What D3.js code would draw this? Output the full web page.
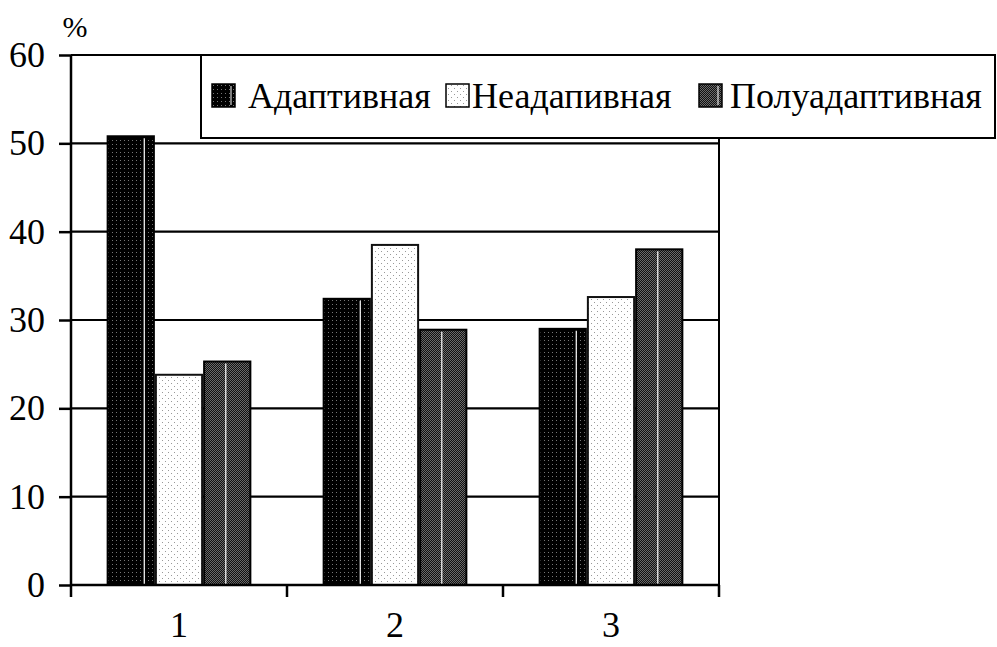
<!DOCTYPE html>
<html><head><meta charset="utf-8">
<script src="https://cdn.jsdelivr.net/npm/d3@7"></script>
</head><body style="margin:0">
<svg id="c" width="997" height="647" style="font-family:'Liberation Serif',Tinos,'Times New Roman',monospace"></svg>
<script>
const categories = ["1", "2", "3"];
const seriesNames = ["Адаптивная", "Неадапивная", "Полуадаптивная"];
const adaptive = [50.8, 32.4, 29.0];
const nonAdaptive = [23.8, 38.5, 32.6];
const semiAdaptive = [25.3, 28.9, 38.0];
const yTicks = [0, 10, 20, 30, 40, 50, 60];
const seriesValues = [adaptive, nonAdaptive, semiAdaptive];

const FONT = "'Liberation Serif', Tinos, 'Times New Roman', monospace";
const svg = d3.select("#c");
const W = 997, H = 647;
const m = {left: 71, right: 278, top: 55, bottom: 62};
const iw = W - m.left - m.right, ih = H - m.top - m.bottom;

const defs = svg.append("defs");
const p1 = defs.append("pattern").attr("id","pA").attr("patternUnits","userSpaceOnUse").attr("width",4).attr("height",4);
p1.append("rect").attr("width",4).attr("height",4).attr("fill","#000");
p1.append("rect").attr("x",1).attr("y",1).attr("width",1).attr("height",1).attr("fill","#777");
const p2 = defs.append("pattern").attr("id","pB").attr("patternUnits","userSpaceOnUse").attr("width",6).attr("height",6);
p2.append("rect").attr("width",6).attr("height",6).attr("fill","#fff");
p2.append("rect").attr("x",1).attr("y",1).attr("width",1).attr("height",1).attr("fill","#999");
p2.append("rect").attr("x",4).attr("y",4).attr("width",1).attr("height",1).attr("fill","#999");
const p3 = defs.append("pattern").attr("id","pC").attr("patternUnits","userSpaceOnUse").attr("width",2).attr("height",2);
p3.append("rect").attr("width",2).attr("height",2).attr("fill","#111");
p3.append("rect").attr("x",0).attr("y",0).attr("width",1).attr("height",1).attr("fill","#6a6a6a");
p3.append("rect").attr("x",1).attr("y",1).attr("width",1).attr("height",1).attr("fill","#6a6a6a");
const fills = ["url(#pA)", "url(#pB)", "url(#pC)"];
const strokes = ["#000", "#111", "#000"];
const highlight = [0.78, null, 0.47];

const g = svg.append("g").attr("transform", `translate(${m.left},${m.top})`);
const x0 = d3.scaleBand().domain(categories).range([0, iw]).paddingInner(0).paddingOuter(0);
const bw = x0.bandwidth();
const groupW = bw * 0.67;
const x1 = d3.scaleBand().domain(d3.range(seriesNames.length)).range([(bw - groupW) / 2, (bw + groupW) / 2]);
const y = d3.scaleLinear().domain([0, 60]).range([ih, 0]);

g.selectAll(".grid").data(yTicks.filter(d => d > 0)).join("line")
  .attr("x1", 0).attr("x2", iw).attr("y1", d => y(d)).attr("y2", d => y(d))
  .attr("stroke", "#000").attr("stroke-width", 2.2);
g.append("line").attr("x1", iw).attr("x2", iw).attr("y1", 0).attr("y2", ih).attr("stroke", "#000").attr("stroke-width", 2);

const data = [];
categories.forEach((c, i) => seriesValues.forEach((s, j) => data.push({c, j, v: s[i]})));
g.selectAll(".bar").data(data).join("rect")
  .attr("x", d => x0(d.c) + x1(d.j) + 1)
  .attr("y", d => y(d.v))
  .attr("width", x1.bandwidth() - 2)
  .attr("height", d => ih - y(d.v))
  .attr("fill", d => fills[d.j]).attr("stroke", d => strokes[d.j]).attr("stroke-width", 2);
g.selectAll(".hl").data(data.filter(d => highlight[d.j] !== null)).join("line")
  .attr("x1", d => x0(d.c) + x1(d.j) + x1.bandwidth() * highlight[d.j])
  .attr("x2", d => x0(d.c) + x1(d.j) + x1.bandwidth() * highlight[d.j])
  .attr("y1", d => y(d.v) + 2).attr("y2", ih - 1)
  .attr("stroke", "#fff").attr("stroke-width", 1.2);

const yAxis = g.append("g").call(d3.axisLeft(y).tickValues(yTicks).tickSize(12).tickPadding(14));
yAxis.attr("font-family", null).attr("font-size", 36);
yAxis.select(".domain").remove();
yAxis.selectAll(".tick line").attr("stroke", "#000").attr("stroke-width", 2.5);
yAxis.selectAll("text").attr("fill", "#000").style("font-family", FONT, "important");
g.append("line").attr("x1", 0).attr("x2", 0).attr("y1", 0).attr("y2", ih).attr("stroke", "#000").attr("stroke-width", 2.5);

const xAxis = g.append("g").attr("transform", `translate(0,${ih})`);
xAxis.append("line").attr("x1", 0).attr("x2", iw).attr("stroke", "#000").attr("stroke-width", 2.5);
xAxis.selectAll(".xt").data(d3.range(categories.length + 1)).join("line")
  .attr("x1", d => d * bw).attr("x2", d => d * bw).attr("y1", 0).attr("y2", 12)
  .attr("stroke", "#000").attr("stroke-width", 2.5);
xAxis.selectAll(".xl").data(categories).join("text")
  .attr("x", d => x0(d) + bw / 2).attr("y", 52)
  .attr("text-anchor", "middle").attr("font-size", 36).style("font-family", FONT, "important").text(d => d);

svg.append("text").attr("x", 75).attr("y", 37).attr("text-anchor", "middle").attr("font-size", 30).style("font-family", FONT, "important").text("%");

const lg = svg.append("g");
lg.append("rect").attr("x", 201).attr("y", 55).attr("width", 794).attr("height", 83)
  .attr("fill", "#fff").attr("stroke", "#000").attr("stroke-width", 2);
const swatchX = [212, 446, 699];
const textX = [248, 472, 730];
seriesNames.forEach((n, j) => {
  lg.append("rect").attr("x", swatchX[j]).attr("y", 84).attr("width", 23).attr("height", 23)
    .attr("fill", fills[j]).attr("stroke", "#000").attr("stroke-width", 1.5);
  if (highlight[j] !== null) lg.append("line").attr("x1", swatchX[j] + 19).attr("x2", swatchX[j] + 19).attr("y1", 86).attr("y2", 105).attr("stroke", "#fff").attr("stroke-width", 1);
  lg.append("text").attr("x", textX[j]).attr("y", 108).attr("font-size", 36).style("font-family", FONT, "important").text(n);
});
</script>
</body></html>
